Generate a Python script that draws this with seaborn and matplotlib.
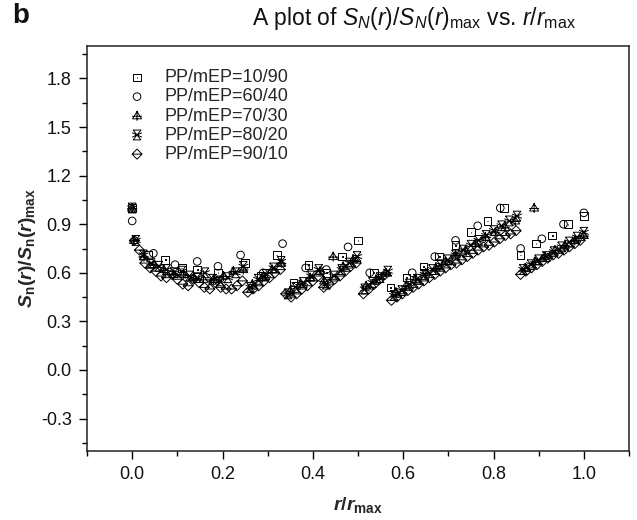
import matplotlib
matplotlib.use("Agg")
import matplotlib.pyplot as plt
import numpy as np
import pandas as pd
import seaborn as sns
from matplotlib.path import Path
from matplotlib.ticker import FixedLocator

# ---------------- data ----------------
series_names = ["PP/mEP=10/90", "PP/mEP=60/40", "PP/mEP=70/30", "PP/mEP=80/20", "PP/mEP=90/10"]

sq_x = [0.0, 0.035, 0.073, 0.110, 0.144, 0.19, 0.25, 0.285, 0.32, 0.357, 0.39, 0.43, 0.465, 0.50,
        0.535, 0.572, 0.607, 0.645, 0.68, 0.716, 0.75, 0.787, 0.823, 0.86, 0.894, 0.93, 0.965, 1.0]
sq_y = [1.00, 0.71, 0.68, 0.63, 0.62, 0.60, 0.66, 0.58, 0.71, 0.54, 0.65, 0.60, 0.70, 0.80,
        0.60, 0.51, 0.57, 0.64, 0.70, 0.77, 0.85, 0.92, 1.00, 0.71, 0.78, 0.83, 0.90, 0.95]

ci_x = [0.0, 0.047, 0.095, 0.144, 0.19, 0.24, 0.29, 0.333, 0.384, 0.43, 0.478, 0.526,
        0.62, 0.67, 0.716, 0.765, 0.815, 0.86, 0.907, 0.955, 1.0]
ci_y = [0.92, 0.72, 0.65, 0.67, 0.64, 0.71, 0.60, 0.78, 0.63, 0.62, 0.76, 0.60,
        0.60, 0.70, 0.80, 0.89, 1.00, 0.75, 0.81, 0.90, 0.97]

tr_x = [0.0, 0.004, 0.026, 0.048, 0.070, 0.092, 0.114, 0.136, 0.158, 0.180, 0.202, 0.224, 0.246,
        0.266, 0.288, 0.310, 0.330,
        0.350, 0.372, 0.394, 0.416,
        0.425, 0.445, 0.467, 0.489,
        0.518, 0.540, 0.562,
        0.584, 0.606, 0.628, 0.650, 0.672, 0.694, 0.716, 0.738, 0.760, 0.782, 0.804, 0.826, 0.848, 0.890,
        0.870, 0.892, 0.914, 0.936, 0.958, 0.980, 1.0]
tr_y = [1.00, 0.80, 0.70, 0.65, 0.62, 0.59, 0.59, 0.57, 0.56, 0.56, 0.58, 0.61, 0.62,
        0.53, 0.57, 0.62, 0.66,
        0.49, 0.53, 0.57, 0.61,
        0.55, 0.70, 0.64, 0.68,
        0.52, 0.56, 0.60,
        0.48, 0.52, 0.56, 0.60, 0.63, 0.67, 0.71, 0.74, 0.78, 0.82, 0.85, 0.88, 0.92, 1.00,
        0.63, 0.67, 0.70, 0.74, 0.77, 0.80, 0.83]

hg_x = [0.0, 0.008, 0.025, 0.042, 0.059, 0.076, 0.093, 0.110, 0.127, 0.144, 0.161, 0.178, 0.195, 0.212, 0.229, 0.246,
        0.262, 0.279, 0.296, 0.313, 0.330,
        0.345, 0.362, 0.379, 0.396, 0.413,
        0.430, 0.447, 0.464, 0.481, 0.498,
        0.515, 0.532, 0.549, 0.566,
        0.580, 0.597, 0.614, 0.631, 0.648, 0.665, 0.682, 0.699, 0.716, 0.733, 0.750, 0.767, 0.784, 0.801, 0.818, 0.835, 0.852,
        0.866, 0.883, 0.900, 0.917, 0.934, 0.951, 0.968, 0.985, 1.0]
hg_y = [1.00, 0.80, 0.71, 0.66, 0.64, 0.62, 0.60, 0.61, 0.58, 0.57, 0.60, 0.56, 0.55, 0.57, 0.60, 0.64,
        0.51, 0.56, 0.59, 0.63, 0.67,
        0.47, 0.51, 0.54, 0.58, 0.62,
        0.53, 0.58, 0.62, 0.66, 0.70,
        0.50, 0.54, 0.57, 0.61,
        0.46, 0.49, 0.53, 0.56, 0.59, 0.62, 0.65, 0.68, 0.71, 0.74, 0.77, 0.80, 0.83, 0.86, 0.89, 0.92, 0.95,
        0.62, 0.65, 0.68, 0.70, 0.73, 0.76, 0.79, 0.82, 0.85]

di_x = [0.005, 0.016, 0.028, 0.040, 0.052, 0.064, 0.076, 0.088, 0.100, 0.112, 0.124, 0.136, 0.148, 0.160,
        0.172, 0.184, 0.196, 0.208, 0.220, 0.232, 0.244,
        0.256, 0.268, 0.280, 0.292, 0.304, 0.316, 0.328,
        0.340, 0.352, 0.364, 0.376, 0.388, 0.400, 0.412,
        0.424, 0.436, 0.448, 0.460, 0.472, 0.484, 0.496,
        0.512, 0.524, 0.536, 0.548, 0.560,
        0.574, 0.586, 0.598, 0.610, 0.622, 0.634, 0.646, 0.658, 0.670, 0.682, 0.694, 0.706,
        0.718, 0.730, 0.742, 0.754, 0.766, 0.778, 0.790, 0.802, 0.814, 0.826, 0.838, 0.850,
        0.860, 0.872, 0.884, 0.896, 0.908, 0.920, 0.932, 0.944, 0.956, 0.968, 0.980, 0.992]
di_y = [0.80, 0.74, 0.66, 0.63, 0.61, 0.58, 0.57, 0.59, 0.56, 0.53, 0.52, 0.56, 0.54, 0.51,
        0.50, 0.54, 0.51, 0.50, 0.50, 0.52, 0.55,
        0.48, 0.50, 0.52, 0.55, 0.57, 0.60, 0.62,
        0.47, 0.45, 0.47, 0.50, 0.52, 0.55, 0.58,
        0.51, 0.53, 0.56, 0.58, 0.61, 0.64, 0.66,
        0.47, 0.50, 0.53, 0.56, 0.59,
        0.43, 0.45, 0.47, 0.49, 0.51, 0.53, 0.55, 0.57, 0.59, 0.61, 0.63, 0.65,
        0.66, 0.68, 0.70, 0.72, 0.74, 0.76, 0.77, 0.79, 0.81, 0.83, 0.84, 0.86,
        0.59, 0.61, 0.63, 0.65, 0.67, 0.69, 0.71, 0.72, 0.74, 0.76, 0.78, 0.80]

x_ticks = [0.0, 0.2, 0.4, 0.6, 0.8, 1.0]
y_ticks = [-0.3, 0.0, 0.3, 0.6, 0.9, 1.2, 1.5, 1.8]

# ---------------- marker shapes ----------------
M, L, C = Path.MOVETO, Path.LINETO, Path.CLOSEPOLY

def mk(segments):
    verts, codes = [], []
    for seg, closed in segments:
        verts.append(seg[0]); codes.append(M)
        for v in seg[1:]:
            verts.append(v); codes.append(L)
        if closed:
            verts.append(seg[0]); codes.append(C)
    return Path(verts, codes)

sq_marker = mk([([(-1, -1), (1, -1), (1, 1), (-1, 1)], True),
                ([(-0.1, -0.1), (0.1, -0.1), (0.1, 0.1), (-0.1, 0.1)], True)])
tr_marker = mk([([(-0.9, -0.6), (0.9, -0.6), (0, 0.85)], True),
                ([(0, 1.0), (0, -1.0)], False),
                ([(-1.0, -0.1), (1.0, -0.1)], False)])
hg_marker = mk([([(-0.8, 1), (0.8, 1)], False),
                ([(-0.8, -1), (0.8, -1)], False),
                ([(-0.8, 1), (0.8, -1)], False),
                ([(0.8, 1), (-0.8, -1)], False),
                ([(-1, 0.45), (1, -0.45)], False),
                ([(-1, -0.45), (1, 0.45)], False)])
di_marker = mk([([(0, 1), (1, 0), (0, -1), (-1, 0)], True),
                ([(-1, 0), (1, 0)], False)])

# ---------------- figure ----------------
sns.set_theme(style="white")
plt.rcParams["font.family"] = ["Liberation Sans", "DejaVu Sans"]
plt.rcParams["mathtext.fontset"] = "custom"
plt.rcParams["mathtext.rm"] = "Liberation Sans"
plt.rcParams["mathtext.it"] = "Liberation Sans:italic"
plt.rcParams["mathtext.bf"] = "Liberation Sans:bold"
plt.rcParams["mathtext.bfit"] = "Liberation Sans:bold:italic"

fig = plt.figure(figsize=(6.37, 5.2), dpi=100)
ax = fig.add_axes([87 / 637, 1 - 451 / 520, 542 / 637, 405 / 520])

specs = [
    (series_names[0], sq_x, sq_y, sq_marker, 30),
    (series_names[1], ci_x, ci_y, "o", 30),
    (series_names[2], tr_x, tr_y, tr_marker, 52),
    (series_names[3], hg_x, hg_y, hg_marker, 50),
    (series_names[4], di_x, di_y, di_marker, 52),
]
for name, xs, ys, mkr, size in specs:
    df = pd.DataFrame({"r": xs, "s": ys})
    sns.scatterplot(data=df, x="r", y="s", marker=mkr, s=size, facecolor="none",
                    edgecolor="black", linewidth=0.7, label=name, ax=ax)

ax.set_xlim(-0.1, 1.1)
ax.set_ylim(-0.5, 2.0)
ax.xaxis.set_major_locator(FixedLocator(x_ticks))
ax.xaxis.set_minor_locator(FixedLocator([-0.1, 0.1, 0.3, 0.5, 0.7, 0.9, 1.1]))
ax.yaxis.set_major_locator(FixedLocator(y_ticks))
ax.yaxis.set_minor_locator(FixedLocator([-0.45, -0.15, 0.15, 0.45, 0.75, 1.05, 1.35, 1.65, 1.95]))
ax.set_xticklabels([f"{v:.1f}" for v in x_ticks])
ax.set_yticklabels([f"{v:.1f}" for v in y_ticks])
ax.tick_params(which="both", direction="out", bottom=True, left=True, top=False, right=False,
               color="black", width=1.0, labelsize=13, labelcolor="#111111")
ax.tick_params(which="major", length=6, pad=5)
ax.tick_params(which="minor", length=3.5)
for sp in ax.spines.values():
    sp.set_color("#222222")
    sp.set_linewidth(1.1)

ax.set_xlabel(r"$\mathbfit{r}\mathbf{/}\mathbfit{r}_{\mathbf{max}}$", fontsize=14)
ax.set_ylabel(r"$\mathbfit{S}_{\mathbf{n}}\mathbf{(}\mathbfit{r}\mathbf{)/}\mathbfit{S}_{\mathbf{n}}"
              r"\mathbf{(}\mathbfit{r}\mathbf{)}_{\mathbf{max}}$", fontsize=14)
ax.xaxis.set_label_coords(0.5, -0.108)
ax.yaxis.set_label_coords(-0.09, 0.5)

ax.legend(loc="upper left", bbox_to_anchor=(0.059, 0.965), frameon=False, fontsize=13,
          handlelength=1.0, handletextpad=1.0, labelspacing=0.12, borderpad=0,
          scatterpoints=1)

fig.text(414 / 637, 1 - 19 / 520, r"A plot of $S_N(r)/S_N(r)_{\mathrm{max}}$ vs. $r/r_{\mathrm{max}}$",
         ha="center", va="center", fontsize=16.5, color="#111111")
fig.text(12 / 637, 1 - 23 / 520, "b", fontweight="bold", fontsize=20, va="baseline", color="#111111")

fig.savefig("out.png", dpi=100)
